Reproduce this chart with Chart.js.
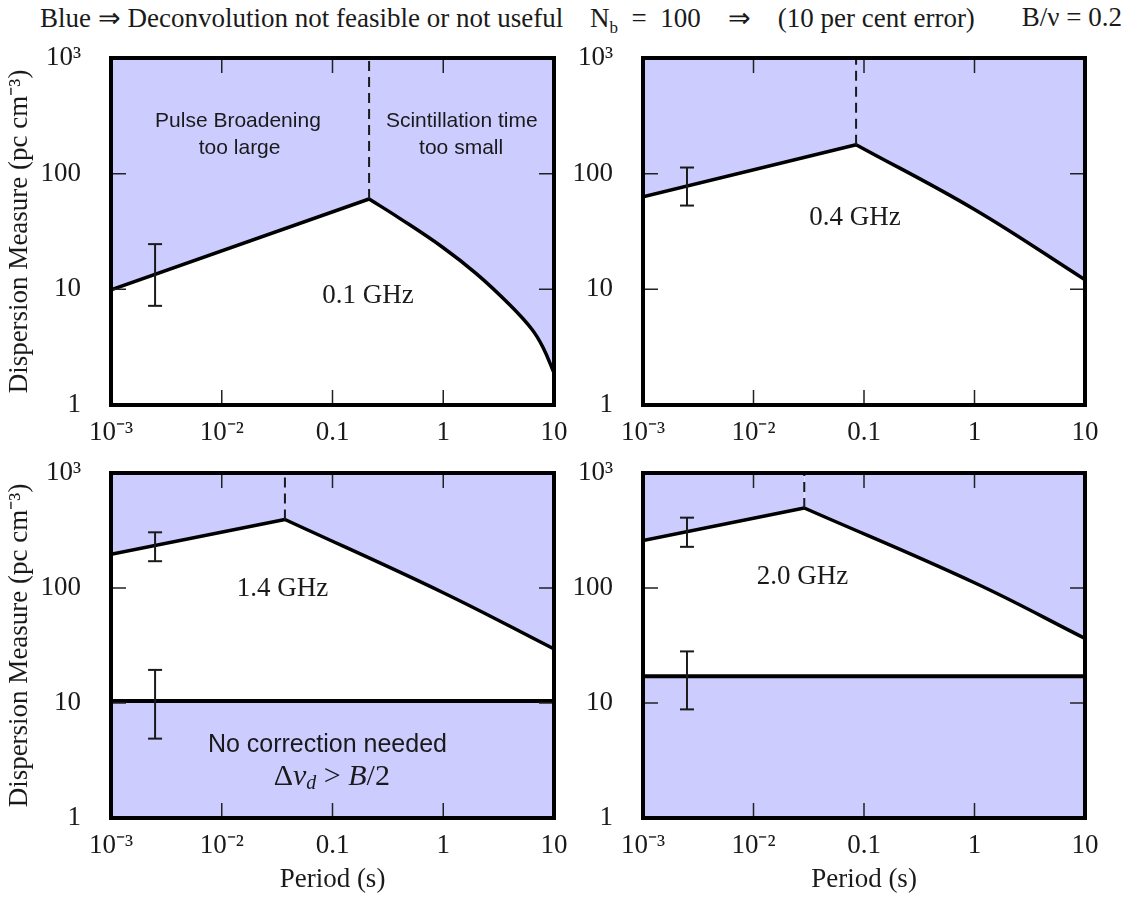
<!DOCTYPE html>
<html>
<head>
<meta charset="utf-8">
<title>Deconvolution feasibility</title>
<script src="https://cdn.jsdelivr.net/npm/chart.js@4.4.1/dist/chart.umd.min.js"></script>
<style>
  body { margin: 0; background: #fff; }
  #page { position: relative; width: 1127px; height: 900px; overflow: hidden; }
  canvas { position: absolute; }
  .head { position: absolute; top: 2px; font-family: "Liberation Serif", serif; font-size: 27px; color: #1a1a1a; white-space: pre; }
  .head sub { font-size: 17px; }
</style>
</head>
<body>
<div id="page">
  <div class="head" style="left:40px">Blue ⇒ Deconvolution not feasible or not useful</div>
  <div class="head" style="left:590px">N<sub>b</sub>&ensp;=&ensp;100&emsp;⇒&emsp;(10 per cent error)</div>
  <div class="head" style="right:5px">B/ν = 0.2</div>
  <canvas id="c01" width="590" height="420" style="left:0;top:30px"></canvas>
  <canvas id="c04" width="562" height="420" style="left:565px;top:30px"></canvas>
  <canvas id="c14" width="590" height="455" style="left:0;top:445px"></canvas>
  <canvas id="c20" width="562" height="455" style="left:565px;top:445px"></canvas>
</div>

<script>
// axes
const periodTicks = [0.001, 0.01, 0.1, 1, 10];
const periodLabels = ['10⁻³', '10⁻²', '0.1', '1', '10'];
const dmTicks = [1, 10, 100, 1000];
const dmLabels = ['1', '10', '100', '10³'];

// 0.1 GHz
const rise01P = [0.001, 0.214];
const rise01DM = [9.9, 60.4];
const fall01P = [0.214, 0.398, 1, 2.0, 3.98, 6.31, 7.94, 10];
const fall01DM = [60.4, 41.5, 22.9, 13.6, 7.35, 4.52, 3.16, 1.9];
const err01 = [7.2, 24.6];

// 0.4 GHz
const rise04P = [0.001, 0.0848];
const rise04DM = [63, 178];
const fall04P = [0.0848, 1, 10];
const fall04DM = [178, 49, 12.1];
const err04 = [53, 113];

// 1.4 GHz
const rise14P = [0.001, 0.0372];
const rise14DM = [196, 394];
const fall14P = [0.0372, 1, 10];
const fall14DM = [394, 91, 29.5];
const floor14DM = 10.4;
const err14 = [171, 305];
const errFloor14 = [4.9, 19.4];

// 2.0 GHz
const rise20P = [0.001, 0.0288];
const rise20DM = [259, 496];
const fall20P = [0.0288, 1, 10];
const fall20DM = [496, 111, 36.4];
const floor20DM = 17.1;
const err20 = [228, 409];
const errFloor20 = [8.8, 28.1];

const errP = 0.0025;

const blue = '#ccccff';
const ink = '#1a1a1a';
const serif = '"Liberation Serif", serif';
const sans = '"Liberation Sans", Arial, sans-serif';

function pts(P, DM) { return P.map((p, i) => ({x: p, y: DM[i]})); }

function curve(P, DM, smooth) {
  return {
    data: pts(P, DM), borderColor: '#000', borderWidth: 3.5, pointRadius: 0,
    fill: 'end', backgroundColor: blue, tension: smooth ? 0.4 : 0
  };
}
function floorLine(dm) {
  return {
    data: pts([0.001, 10], [dm, dm]), borderColor: '#000', borderWidth: 4,
    pointRadius: 0, fill: 'start', backgroundColor: blue
  };
}
function errorBar(range) {
  return {
    data: pts([errP, errP], range), borderColor: ink, borderWidth: 2,
    pointStyle: 'line', pointRadius: 7, pointBorderWidth: 2, pointBorderColor: ink, fill: false
  };
}
function peakDash(P, DM) {
  return {
    data: pts([P, P], [DM, 1000]), borderColor: ink, borderWidth: 2,
    borderDash: [10, 6], pointRadius: 0, fill: false
  };
}

// inward ticks on all four sides + heavy frame
const framePlugin = {
  id: 'frame',
  afterDatasetsDraw(chart) {
    const {ctx, chartArea: a, scales: {x, y}} = chart;
    ctx.save();
    ctx.strokeStyle = '#222';
    ctx.lineWidth = 1.5;
    ctx.beginPath();
    periodTicks.slice(1, -1).forEach(v => {
      const px = x.getPixelForValue(v);
      ctx.moveTo(px, a.bottom); ctx.lineTo(px, a.bottom - 15);
      ctx.moveTo(px, a.top); ctx.lineTo(px, a.top + 15);
    });
    dmTicks.slice(1, -1).forEach(v => {
      const py = y.getPixelForValue(v);
      ctx.moveTo(a.left, py); ctx.lineTo(a.left + 15, py);
      ctx.moveTo(a.right, py); ctx.lineTo(a.right - 15, py);
    });
    ctx.stroke();
    ctx.strokeStyle = '#000';
    ctx.lineWidth = 4;
    ctx.strokeRect(a.left, a.top, a.right - a.left, a.bottom - a.top);
    ctx.restore();
  }
};

// text placed at data coordinates
const textPlugin = {
  id: 'panelText',
  afterDatasetsDraw(chart, args, opts) {
    const {ctx, scales: {x, y}} = chart;
    ctx.save();
    ctx.fillStyle = ink;
    ctx.textBaseline = 'middle';
    (opts.items || []).forEach(it => {
      const px = x.getPixelForValue(it.p), py = y.getPixelForValue(it.dm);
      const parts = it.parts || [{t: it.text, font: it.font}];
      let w = 0;
      parts.forEach(pt => { ctx.font = pt.font; w += ctx.measureText(pt.t).width; });
      let cx = px - w / 2;
      ctx.textAlign = 'left';
      parts.forEach(pt => {
        ctx.font = pt.font;
        ctx.fillText(pt.t, cx, py + (pt.dy || 0));
        cx += ctx.measureText(pt.t).width;
      });
    });
    ctx.restore();
  }
};

function panel(id, datasets, items, box) {
  const tickFont = {family: serif, size: 27};
  new Chart(document.getElementById(id), {
    type: 'line',
    data: {datasets: datasets},
    options: {
      responsive: false,
      animation: false,
      events: [],
      layout: {padding: {left: 0, top: box.top, right: box.right, bottom: 0}},
      plugins: {
        legend: {display: false},
        tooltip: {enabled: false},
        filler: {drawTime: 'beforeDatasetsDraw'},
        panelText: {items: items}
      },
      scales: {
        x: {
          type: 'logarithmic', min: 0.001, max: 10,
          afterBuildTicks: s => { s.ticks = periodTicks.map(v => ({value: v})); },
          afterFit: s => { s.height = box.xh; s.paddingLeft = 0; s.paddingRight = 0; },
          grid: {display: false}, border: {display: false},
          ticks: {
            callback: (v, i) => periodLabels[i], font: tickFont, color: ink,
            padding: 4, maxRotation: 0, autoSkip: false
          },
          title: {display: box.xTitle, text: 'Period (s)', font: tickFont, color: ink}
        },
        y: {
          type: 'logarithmic', min: 1, max: 1000,
          afterBuildTicks: s => { s.ticks = dmTicks.map(v => ({value: v})); },
          afterFit: s => { s.width = box.yw; s.paddingTop = 0; s.paddingBottom = 0; },
          grid: {display: false}, border: {display: false},
          ticks: {
            callback: (v, i) => dmLabels[i], font: tickFont, color: ink,
            padding: 22, autoSkip: false
          },
          title: {display: box.yTitle, text: 'Dispersion Measure (pc cm⁻³)', font: tickFont, color: ink}
        }
      }
    },
    plugins: [framePlugin, textPlugin]
  });
}

const labelFont = '27px ' + serif;
const noteFont = '21px ' + sans;

panel('c01', [
  peakDash(rise01P[1], rise01DM[1]),
  errorBar(err01),
  curve(rise01P, rise01DM, false),
  curve(fall01P, fall01DM, true)
], [
  {text: 'Pulse Broadening', p: 0.014, dm: 284, font: noteFont},
  {text: 'too large', p: 0.0145, dm: 167, font: noteFont},
  {text: 'Scintillation time', p: 1.47, dm: 284, font: noteFont},
  {text: 'too small', p: 1.45, dm: 167, font: noteFont},
  {text: '0.1 GHz', p: 0.209, dm: 8.7, font: labelFont}
], {top: 28, right: 36, xh: 45, yw: 111, xTitle: false, yTitle: true});

panel('c04', [
  peakDash(rise04P[1], rise04DM[1]),
  errorBar(err04),
  curve(rise04P, rise04DM, false),
  curve(fall04P, fall04DM, true)
], [
  {text: '0.4 GHz', p: 0.0828, dm: 41.3, font: labelFont}
], {top: 28, right: 42, xh: 45, yw: 78, xTitle: false, yTitle: false});

panel('c14', [
  peakDash(rise14P[1], rise14DM[1]),
  errorBar(err14),
  errorBar(errFloor14),
  curve(rise14P, rise14DM, false),
  curve(fall14P, fall14DM, true),
  floorLine(floor14DM)
], [
  {text: '1.4 GHz', p: 0.0353, dm: 97.5, font: labelFont},
  {text: 'No correction needed', p: 0.09, dm: 4.29, font: '25px ' + sans},
  {p: 0.0986, dm: 2.28, parts: [
    {t: 'Δ', font: '30px ' + serif},
    {t: 'ν', font: 'italic 30px ' + serif},
    {t: 'd', font: 'italic 20px ' + serif, dy: 7},
    {t: ' > ', font: '30px ' + serif},
    {t: 'B', font: 'italic 30px ' + serif},
    {t: '/2', font: '30px ' + serif}
  ]}
], {top: 28, right: 36, xh: 82, yw: 111, xTitle: true, yTitle: true});

panel('c20', [
  peakDash(rise20P[1], rise20DM[1]),
  errorBar(err20),
  errorBar(errFloor20),
  curve(rise20P, rise20DM, false),
  curve(fall20P, fall20DM, true),
  floorLine(floor20DM)
], [
  {text: '2.0 GHz', p: 0.0277, dm: 125, font: labelFont}
], {top: 28, right: 42, xh: 82, yw: 78, xTitle: true, yTitle: false});
</script>
</body>
</html>
